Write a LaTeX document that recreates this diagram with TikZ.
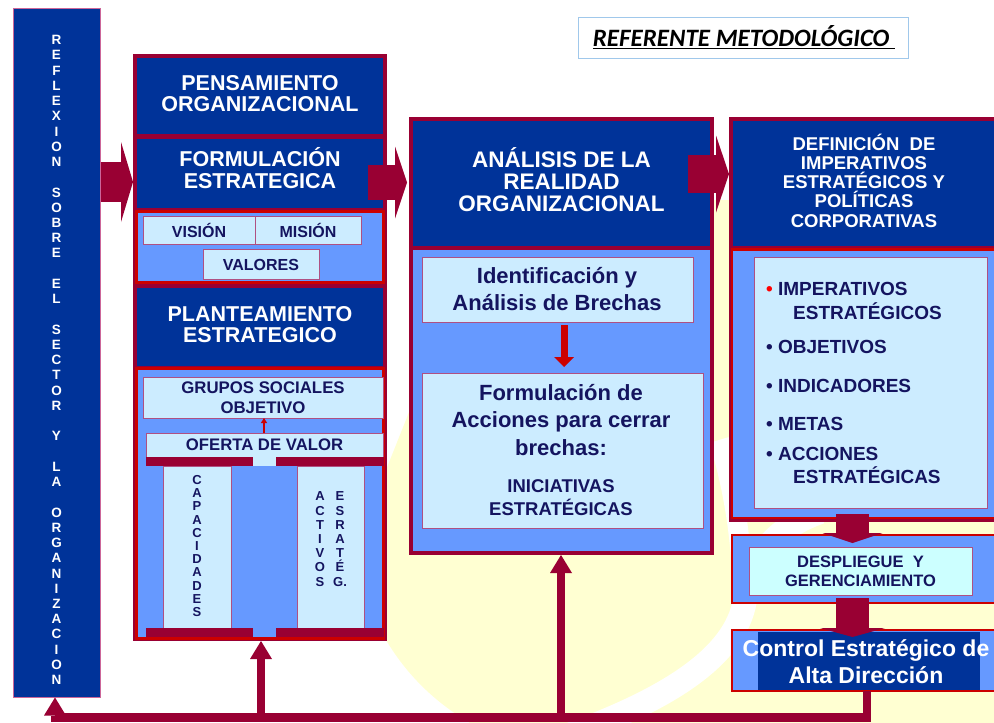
\documentclass[tikz,border=0pt]{standalone}
\usepackage{fontspec}
\setmainfont{Liberation Sans}
\newfontfamily\titlef{Carlito}
\usetikzlibrary{arrows.meta}
\definecolor{dblue}{RGB}{0,51,153}
\definecolor{maroon}{RGB}{153,0,51}
\definecolor{pblue}{RGB}{102,153,255}
\definecolor{lblue}{RGB}{204,236,255}
\definecolor{lcyan}{RGB}{204,255,255}
\definecolor{bred}{RGB}{204,0,0}
\definecolor{navy}{RGB}{20,20,95}
\definecolor{pyellow}{RGB}{255,255,210}
\definecolor{ibord}{RGB}{175,80,130}
\definecolor{lborder}{RGB}{204,102,153}
\definecolor{tborder}{RGB}{160,200,235}
\newcommand\fs[2]{\fontsize{#1}{#2}\selectfont}
% name, style, x1, y1, x2, y2, text
\newcommand\rnode[7]{\node[#2, minimum width={(#5-#3)*1pt}, minimum height={(#6-#4)*1pt}] (#1) at ({(#3+#5)/2},{(#4+#6)/2}) {#7};}
\tikzset{
  blk/.style={fill=dblue, draw=none, inner sep=0pt, outer sep=0pt},
  frm/.style={fill=maroon, draw=none, inner sep=0pt, outer sep=0pt},
  panel/.style={fill=pblue, draw=bred, line width=2.5pt, inner sep=0pt, outer sep=0pt},
  ibox/.style={fill=lblue, draw=ibord, line width=0.8pt, inner sep=0pt, outer sep=0pt, text=navy, font=\bfseries, align=center},
  wtext/.style={text=white, font=\bfseries, align=center, inner sep=0pt},
  ntext/.style={text=navy, font=\bfseries, align=center, inner sep=0pt},
  ltext/.style={text=navy, font=\bfseries\fs{19}{20}, anchor=base west, inner sep=0pt},
  fbline/.style={draw=maroon, line width=8.5pt},
  fbtip/.style={-{Triangle[width=22pt,length=18pt,line width=0pt]}},
}
\begin{document}
\begin{tikzpicture}[x=1pt,y=-1pt]
\useasboundingbox (0,0) rectangle (994,723);
\clip (0,0) rectangle (994,723);
\fill[white] (0,0) rectangle (994,723);
% background decoration
\fill[pyellow] (425,372) -- (386,470) -- (386,640) .. controls (410,680) and (440,705) .. (470,723) -- (994,723) -- (994,200) -- (712,200) -- (712,372) -- cycle;
\draw[white, line width=24pt] (540,745) .. controls (660,705) and (735,660) .. (745,600) .. controls (752,560) and (770,530) .. (820,512);
\draw[white, line width=20pt] (742,570) .. controls (738,510) and (728,470) .. (719,440);

% title
\node[draw=tborder, line width=1pt, minimum width=330pt, minimum height=41pt, inner sep=0pt] (title) at (743,37.5) {};
\node[inner sep=0pt, font=\titlef\bfseries\itshape\fs{25}{28}] (titletext) at (744,37) {\underline{REFERENTE METODOLÓGICO\ }};

% left column
\node[fill=dblue, draw=lborder, line width=1pt, minimum width=87pt, minimum height=689pt, inner sep=0pt] (lcol) at (56.5,352.5) {};
\node[wtext, font=\bfseries\fs{13.5}{15.24}] (lcoltext) at (56.5,360) {R\\E\\F\\L\\E\\X\\I\\O\\N\\[15.24pt]S\\O\\B\\R\\E\\[15.24pt]E\\L\\[15.24pt]S\\E\\C\\T\\O\\R\\[15.24pt]Y\\[15.24pt]L\\A\\[15.24pt]O\\R\\G\\A\\N\\I\\Z\\A\\C\\I\\O\\N};

% column 2
\rnode{frame2}{frm}{133}{54}{387}{641}{}
\rnode{pens}{blk}{137}{58}{383}{134}{}
\rnode{form}{blk}{137}{139}{383}{208}{}
\rnode{panC}{panel}{136.5}{211.5}{383.5}{282.5}{}
\rnode{plan}{blk}{137}{288}{383}{366}{}
\rnode{panE}{panel}{136.5}{368.5}{383.5}{638.5}{}
\node[wtext, font=\bfseries\fs{21.5}{21}] (penstext) at (260,93.3) {PENSAMIENTO\\ORGANIZACIONAL};
\node[wtext, font=\bfseries\fs{21.5}{22.5}] (formtext) at (260,168) {FORMULACIÓN\\ESTRATEGICA};
\node[wtext, font=\bfseries\fs{21.5}{21}] (plantext) at (260,325) {PLANTEAMIENTO\\ESTRATEGICO};
\rnode{vis}{ibox,font=\bfseries\fs{16}{18}}{143}{216}{255}{244}{VISIÓN}
\rnode{mis}{ibox,font=\bfseries\fs{16}{18}}{255}{216}{361}{244}{MISIÓN}
\rnode{val}{ibox,font=\bfseries\fs{16}{18}}{203}{249.5}{319}{279.5}{VALORES}
\rnode{grupos}{ibox,font=\bfseries\fs{16.8}{20}}{143}{377}{383}{418}{GRUPOS SOCIALES\\OBJETIVO}
\rnode{oferta}{ibox,font=\bfseries\fs{16.7}{18}}{146}{433}{383}{457}{OFERTA DE VALOR}
\fill[maroon] (146,457) rectangle (253,466);
\fill[maroon] (276,457) rectangle (383.5,466);
\fill[lblue] (253,456) rectangle (276,466);
\rnode{capac}{ibox}{163}{466}{231}{628}{}
\rnode{activ}{ibox}{297}{466}{364}{628}{}
\fill[maroon] (146,628) rectangle (253,637);
\fill[maroon] (276,628) rectangle (383.5,637);
\node[ntext, font=\bfseries\fs{13}{13.2}] (capactext) at (197,546) {C\\A\\P\\A\\C\\I\\D\\A\\D\\E\\S};
\node[ntext, font=\bfseries\fs{13}{14.2}] (activtext) at (320,539) {A\\C\\T\\I\\V\\O\\S};
\node[ntext, font=\bfseries\fs{13}{14.2}] (esrattext) at (340,539) {E\\S\\R\\A\\T\\É\\G.};
\draw[bred, line width=1.2pt, -{Triangle[width=6pt,length=5pt]}] (oferta.north -| 264,0) -- (grupos.south -| 264,0);

% column 3
\rnode{frame3}{frm}{409}{117}{714}{555}{}
\rnode{anhdr}{blk}{413}{121}{710}{246}{}
\node[fill=pblue, inner sep=0pt, minimum width=297pt, minimum height=301pt] (panel3) at (561.5,400.5) {};
\node[wtext, font=\bfseries\fs{22.5}{21.7}] (anhdrtext) at (561.5,179.5) {ANÁLISIS DE LA\\REALIDAD\\ORGANIZACIONAL};
\rnode{ident}{ibox}{422}{257}{693}{322}{}
\node[ntext, font=\bfseries\fs{22}{27.7}] (identtext) at (557,289) {Identificación y\\Análisis de Brechas};
\rnode{formac}{ibox}{422}{373}{703}{528}{}
\node[ntext, font=\bfseries\fs{22}{27.3}] (formactext) at (561,420) {Formulación de\\Acciones para cerrar\\brechas:};
\node[ntext, font=\bfseries\fs{18.5}{23.3}] (initext) at (561,497.7) {INICIATIVAS\\ESTRATÉGICAS};
\draw[bred, line width=7pt, -{Triangle[width=20pt,length=10pt,line width=0pt]}, shorten <=3pt, shorten >=6pt] (ident.south -| 564,0) -- (formac.north -| 564,0);

% column 4
\rnode{frame4}{frm}{729}{117}{1002}{522}{}
\rnode{dhdr}{blk}{733}{121}{1002}{246}{}
\rnode{panel4}{panel}{732}{249.5}{1004}{518}{}
\node[wtext, font=\bfseries\fs{18.5}{19.2}] (dhdrtext) at (864,180.5) {DEFINICIÓN\ \ DE\\IMPERATIVOS\\ESTRATÉGICOS Y\\POLÍTICAS\\CORPORATIVAS};
\rnode{list}{ibox}{754}{257}{987}{508}{}
\node[ltext] (li1) at (766,295) {{\color{red}\textbullet}\ IMPERATIVOS};
\node[ltext] (li2) at (793,319.5) {ESTRATÉGICOS};
\node[ltext] (li3) at (766,353.5) {\textbullet\ OBJETIVOS};
\node[ltext] (li4) at (766,392) {\textbullet\ INDICADORES};
\node[ltext] (li5) at (766,430) {\textbullet\ METAS};
\node[ltext] (li6) at (766,460) {\textbullet\ ACCIONES};
\node[ltext] (li7) at (793,483.5) {ESTRATÉGICAS};
\rnode{despan}{panel}{732}{535}{1004}{603}{}
\rnode{desp}{ibox,fill=lcyan,font=\bfseries\fs{16.5}{19.3}}{749}{547}{972}{595}{DESPLIEGUE\ \ Y\\GERENCIAMIENTO}
\rnode{ctrlpan}{panel}{732}{630}{1004}{691}{}
\rnode{ctrl}{blk}{758}{632}{980}{690}{}
\node[wtext, font=\bfseries\fs{23}{26.7}] (ctrltext) at (866,661.7) {Control Estratégico de\\Alta Dirección};
\draw[maroon, line width=33pt, -{Triangle[width=60pt,length=10pt,line width=0pt]}] ([yshift=4pt]panel4.south -| 852.5,0) -- ([yshift=-8pt]despan.north -| 852.5,0);
\draw[maroon, line width=33pt, -{Triangle[width=65pt,length=9pt,line width=0pt]}] ([yshift=5pt]despan.south -| 852.5,0) -- ([yshift=-7pt]ctrlpan.north -| 852.5,0);

% block arrows between columns
\draw[maroon, line width=40pt, -{Triangle[width=80pt,length=12pt,line width=0pt]}] (lcol.east |- 0,182) -- (frame2.west |- 0,182);
\draw[maroon, line width=35pt, -{Triangle[width=72pt,length=12pt,line width=0pt]}] ([xshift=-19pt]frame2.east |- 0,182.5) -- ([xshift=-2pt]frame3.west |- 0,182.5);
\draw[maroon, line width=38pt, -{Triangle[width=77pt,length=13pt,line width=0pt]}] ([xshift=-26pt]frame3.east |- 0,174) -- (frame4.west |- 0,174);

% feedback lines
\coordinate (fbR) at (867,717.5);
\coordinate (fbL) at (55,717.5);
\coordinate (fb2) at (261,717.5);
\coordinate (fb3) at (561,717.5);
\draw[fbline, fbtip] (ctrlpan.south -| fbR) -- (fbR) -- (fbL) -- (lcol.south -| fbL);
\draw[fbline, fbtip] (fb2) -- (frame2.south -| fb2);
\draw[fbline, fbtip] (fb3) -- (frame3.south -| fb3);
\end{tikzpicture}
\end{document}
